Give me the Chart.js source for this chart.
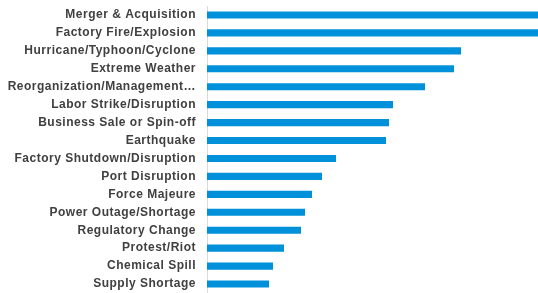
<!DOCTYPE html>
<html>
<head>
<meta charset="utf-8">
<script src="https://cdn.jsdelivr.net/npm/chart.js@4/dist/chart.umd.min.js"></script>
<style>
  html, body { margin: 0; padding: 0; background: #fff; overflow: hidden; }
  canvas { display: block; }
</style>
</head>
<body>
<canvas id="mycanvas" width="538" height="293"></canvas>
<script>
var categories = [
  'Merger & Acquisition',
  'Factory Fire/Explosion',
  'Hurricane/Typhoon/Cyclone',
  'Extreme Weather',
  'Reorganization/Management\u2026',
  'Labor Strike/Disruption',
  'Business Sale or Spin-off',
  'Earthquake',
  'Factory Shutdown/Disruption',
  'Port Disruption',
  'Force Majeure',
  'Power Outage/Shortage',
  'Regulatory Change',
  'Protest/Riot',
  'Chemical Spill',
  'Supply Shortage'
];
var events = [331, 331, 254, 247, 218, 186, 182, 179, 129, 115, 105, 98, 94, 77, 66, 62];
var axisMax = 331;

var chartdata =
{
  labels: categories,
  datasets: [
    {
      label: 'Events',
      backgroundColor: '#0091da',
      borderWidth: 0,
      categoryPercentage: 1,
      barPercentage: 0.4,
      data: events
    }
  ]
};

// labels in the picture are a bit spaced out
var spacing = {
  id: 'spacing',
  beforeUpdate: function(chart) { chart.ctx.letterSpacing = '0.5px'; },
  beforeDraw: function(chart) { chart.ctx.letterSpacing = '0.5px'; }
};

var ctx = document.getElementById('mycanvas');

var barGraph = new Chart(ctx,
{
  type: 'bar',
  data: chartdata,
  plugins: [spacing],
  options: {
    indexAxis: 'y',
    responsive: false,
    animation: false,
    layout: { padding: { top: 6, bottom: 0, left: 0, right: 0 } },
    plugins: {
      legend: { display: false },
      tooltip: { enabled: false }
    },
    scales: {
      x: {
        display: false,
        min: 0,
        max: axisMax
      },
      y: {
        grid: { display: false, drawTicks: false },
        border: { display: true, color: '#d9d9d9', width: 1 },
        ticks: {
          autoSkip: false,
          padding: 11,
          color: '#404040',
          font: { family: 'Liberation Sans, Arial, sans-serif', size: 12, weight: 'bold' }
        },
        afterFit: function(scale) {
          scale.width = 207;
          scale.paddingTop = 0;
          scale.paddingBottom = 0;
        }
      }
    }
  }
});
</script>
</body>
</html>
